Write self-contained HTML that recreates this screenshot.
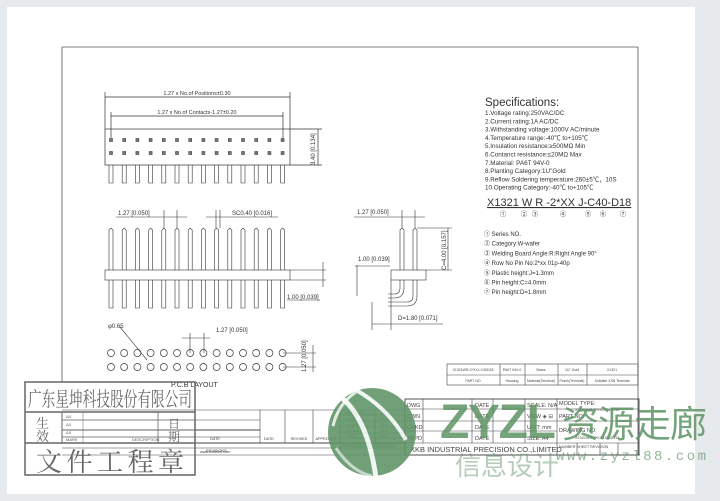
<!DOCTYPE html>
<html><head><meta charset="utf-8"><style>
html,body{margin:0;padding:0;background:#e6eaec;}
svg{display:block;font-family:"Liberation Sans","Noto Sans CJK SC",sans-serif;}
</style></head><body>
<svg width="720" height="501" viewBox="0 0 720 501" xmlns="http://www.w3.org/2000/svg">
<rect x="0" y="0" width="720" height="501" fill="#e6eaec"/>
<rect x="7" y="7" width="688" height="487" fill="#fff"/>
<g stroke="#555" fill="none" stroke-width="0.8">
<polyline points="62,382 62,47 638,47 638,455"/>
</g>
<g stroke="#333" stroke-width="0.7" fill="none">
<line x1="105" y1="97" x2="290" y2="97"/><line x1="105" y1="92" x2="105" y2="129"/><line x1="290" y1="92" x2="290" y2="129"/>
<line x1="111" y1="116" x2="283" y2="116"/><line x1="111" y1="112" x2="111" y2="138"/><line x1="283" y1="112" x2="283" y2="138"/>
<rect x="105" y="129" width="185" height="36"/>
<line x1="290" y1="129" x2="322" y2="129"/><line x1="290" y1="165" x2="322" y2="165"/><line x1="318" y1="129" x2="318" y2="165"/>
</g>
<text x="197" y="95" font-size="5.5" text-anchor="middle" fill="#333">1.27 x No.of Positions±0.30</text>
<text x="197" y="114" font-size="5.5" text-anchor="middle" fill="#333">1.27 x No.of Contacts-1.27±0.20</text>
<text x="0" y="0" font-size="6" fill="#333" transform="translate(315,165) rotate(-90)">3.40 [0.134]</text>
<g stroke="#444" stroke-width="0.6" fill="#777">
<rect x="109.5" y="138.5" width="3" height="3"/><rect x="109.5" y="151.5" width="3" height="3"/>
<rect x="122.7" y="138.5" width="3" height="3"/><rect x="122.7" y="151.5" width="3" height="3"/>
<rect x="135.9" y="138.5" width="3" height="3"/><rect x="135.9" y="151.5" width="3" height="3"/>
<rect x="149.1" y="138.5" width="3" height="3"/><rect x="149.1" y="151.5" width="3" height="3"/>
<rect x="162.3" y="138.5" width="3" height="3"/><rect x="162.3" y="151.5" width="3" height="3"/>
<rect x="175.5" y="138.5" width="3" height="3"/><rect x="175.5" y="151.5" width="3" height="3"/>
<rect x="188.7" y="138.5" width="3" height="3"/><rect x="188.7" y="151.5" width="3" height="3"/>
<rect x="201.9" y="138.5" width="3" height="3"/><rect x="201.9" y="151.5" width="3" height="3"/>
<rect x="215.1" y="138.5" width="3" height="3"/><rect x="215.1" y="151.5" width="3" height="3"/>
<rect x="228.3" y="138.5" width="3" height="3"/><rect x="228.3" y="151.5" width="3" height="3"/>
<rect x="241.5" y="138.5" width="3" height="3"/><rect x="241.5" y="151.5" width="3" height="3"/>
<rect x="254.7" y="138.5" width="3" height="3"/><rect x="254.7" y="151.5" width="3" height="3"/>
<rect x="267.9" y="138.5" width="3" height="3"/><rect x="267.9" y="151.5" width="3" height="3"/>
<rect x="281.1" y="138.5" width="3" height="3"/><rect x="281.1" y="151.5" width="3" height="3"/>
</g>
<g stroke="#333" stroke-width="0.6" fill="none">
<path d="M109,165v18h4v-18M122.2,165v18h4v-18M135.4,165v18h4v-18M148.6,165v18h4v-18M161.8,165v18h4v-18M175,165v18h4v-18M188.2,165v18h4v-18M201.4,165v18h4v-18M214.6,165v18h4v-18M227.8,165v18h4v-18M241,165v18h4v-18M254.2,165v18h4v-18M267.4,165v18h4v-18M280.6,165v18h4v-18"/>
<path d="M109,270v-40l2,-2l2,2v40M122.2,270v-40l2,-2l2,2v40M135.4,270v-40l2,-2l2,2v40M148.6,270v-40l2,-2l2,2v40M161.8,270v-40l2,-2l2,2v40M175,270v-40l2,-2l2,2v40M188.2,270v-40l2,-2l2,2v40M201.4,270v-40l2,-2l2,2v40M214.6,270v-40l2,-2l2,2v40M227.8,270v-40l2,-2l2,2v40M241,270v-40l2,-2l2,2v40M254.2,270v-40l2,-2l2,2v40M267.4,270v-40l2,-2l2,2v40M280.6,270v-40l2,-2l2,2v40"/>
<path d="M109,280v28h4v-28M122.2,280v28h4v-28M135.4,280v28h4v-28M148.6,280v28h4v-28M161.8,280v28h4v-28M175,280v28h4v-28M188.2,280v28h4v-28M201.4,280v28h4v-28M214.6,280v28h4v-28M227.8,280v28h4v-28M241,280v28h4v-28M254.2,280v28h4v-28M267.4,280v28h4v-28M280.6,280v28h4v-28"/>
<rect x="105" y="270" width="185" height="10"/>
<line x1="290" y1="270" x2="326" y2="270"/><line x1="290" y1="280" x2="326" y2="280"/><line x1="323" y1="262" x2="323" y2="287"/>
<line x1="116" y1="217" x2="187" y2="217"/><line x1="164" y1="210" x2="164" y2="228"/><line x1="177" y1="210" x2="177" y2="228"/>
<line x1="206" y1="217" x2="278" y2="217"/><line x1="216" y1="210" x2="216" y2="228"/><line x1="220" y1="210" x2="220" y2="228"/>
<line x1="287" y1="300" x2="320" y2="300"/>
<rect x="391" y="270" width="35" height="10"/>
<path d="M400,270v-40l2,-2l2,2v40M413,270v-40l2,-2l2,2v40"/>
<path d="M400,280v8q0,6 -6,6h-6M404,280v8q0,10 -10,10h-6"/>
<path d="M413,280v16q0,6 -6,6h-19M417,280v16q0,10 -10,10h-19"/>
<line x1="354" y1="217" x2="425" y2="217"/><line x1="402" y1="210" x2="402" y2="228"/><line x1="415" y1="210" x2="415" y2="228"/>
<line x1="417" y1="228" x2="452" y2="228"/><line x1="426" y1="270" x2="452" y2="270"/><line x1="448" y1="228" x2="448" y2="270"/>
<line x1="355" y1="266" x2="390" y2="266"/><line x1="357" y1="265" x2="357" y2="296"/>
<line x1="372" y1="324" x2="443" y2="324"/><line x1="372" y1="302" x2="372" y2="330"/><line x1="391" y1="280" x2="391" y2="330"/>
<line x1="182" y1="338" x2="210" y2="338"/><line x1="190" y1="333" x2="190" y2="353"/><line x1="204" y1="333" x2="204" y2="353"/>
<line x1="120" y1="327" x2="147" y2="360"/>
<line x1="283" y1="353" x2="316" y2="353"/><line x1="283" y1="367" x2="316" y2="367"/><line x1="313" y1="345" x2="313" y2="372"/>
</g>
<g stroke="#333" stroke-width="0.7" fill="none">
<circle cx="111" cy="353" r="3.5"/><circle cx="124.2" cy="353" r="3.5"/><circle cx="137.4" cy="353" r="3.5"/><circle cx="150.6" cy="353" r="3.5"/><circle cx="163.8" cy="353" r="3.5"/><circle cx="177" cy="353" r="3.5"/><circle cx="190.2" cy="353" r="3.5"/><circle cx="203.4" cy="353" r="3.5"/><circle cx="216.6" cy="353" r="3.5"/><circle cx="229.8" cy="353" r="3.5"/><circle cx="243" cy="353" r="3.5"/><circle cx="256.2" cy="353" r="3.5"/><circle cx="269.4" cy="353" r="3.5"/><circle cx="282.6" cy="353" r="3.5"/>
<circle cx="111" cy="367" r="3.5"/><circle cx="124.2" cy="367" r="3.5"/><circle cx="137.4" cy="367" r="3.5"/><circle cx="150.6" cy="367" r="3.5"/><circle cx="163.8" cy="367" r="3.5"/><circle cx="177" cy="367" r="3.5"/><circle cx="190.2" cy="367" r="3.5"/><circle cx="203.4" cy="367" r="3.5"/><circle cx="216.6" cy="367" r="3.5"/><circle cx="229.8" cy="367" r="3.5"/><circle cx="243" cy="367" r="3.5"/><circle cx="256.2" cy="367" r="3.5"/><circle cx="269.4" cy="367" r="3.5"/><circle cx="282.6" cy="367" r="3.5"/>
</g>
<g font-size="6" fill="#333">
<text x="118" y="215">1.27 [0.050]</text>
<text x="232" y="215">SC0.40 [0.016]</text>
<text x="287" y="299">1.00 [0.039]</text>
<text x="357" y="214">1.27 [0.050]</text>
<text x="358" y="261">1.00 [0.039]</text>
<text x="398" y="320">D=1.80 [0.071]</text>
<text transform="translate(446,270) rotate(-90)">C=4.00 [0.157]</text>
<text x="108" y="328">φ0.65</text>
<text x="216" y="332">1.27 [0.050]</text>
<text transform="translate(306,372) rotate(-90)">1.27 [0.050]</text>
<text x="171" y="387" font-size="7">P.C.B LAYOUT</text>
</g>
<g fill="#333">
<text x="485" y="106" font-size="11.5">Specifications:</text>
<g font-size="6.3">
<text x="485" y="115">1.Voltage rating:250VAC/DC</text>
<text x="485" y="123.3">2.Current rating:1A AC/DC</text>
<text x="485" y="131.6">3.Withstanding voltage:1000V AC/minute</text>
<text x="485" y="139.9">4.Temperature range:-40℃ to+105℃</text>
<text x="485" y="148.2">5.Insulation resistance:≥500MΩ Min</text>
<text x="485" y="156.5">6.Contanct resistance:≤20MΩ Max</text>
<text x="485" y="164.8">7.Material: PA6T 94V-0</text>
<text x="485" y="173.1">8.Planting Category:1U"Gold</text>
<text x="485" y="181.4">9.Reflow Soldering temperature:260±5℃，10S</text>
<text x="485" y="189.7">10.Operating Category:-40℃ to+105℃</text>
</g>
<text x="487" y="206" font-size="11" text-decoration="underline">X1321 W R -2*XX J-C40-D18</text>
<g font-size="6.5" text-anchor="middle">
<text x="503" y="216">①</text><text x="524" y="216">②</text><text x="535" y="216">③</text><text x="563" y="216">④</text><text x="588" y="216">⑤</text><text x="603" y="216">⑥</text><text x="623" y="216">⑦</text>
</g>
<g font-size="6">
<text x="484" y="236">① Series NO.</text>
<text x="484" y="245.7">② Category:W-wafer</text>
<text x="484" y="255.4">③ Welding Board Angle:R:Right Angle 90°</text>
<text x="484" y="265.1">④ Row No Pin No:2*xx 01p-40p</text>
<text x="484" y="274.8">⑤ Plastic height:J=1.3mm</text>
<text x="484" y="284.5">⑥ Pin height:C=4.0mm</text>
<text x="484" y="294.2">⑦ Pin height:D=1.8mm</text>
</g>
</g>
<g stroke="#444" stroke-width="0.6" fill="none">
<rect x="447" y="364" width="191" height="21"/><line x1="447" y1="375" x2="638" y2="375"/>
<line x1="500" y1="364" x2="500" y2="385"/><line x1="525" y1="364" x2="525" y2="385"/><line x1="558" y1="364" x2="558" y2="385"/><line x1="587" y1="364" x2="587" y2="385"/>
</g>
<g font-size="3.5" fill="#444" text-anchor="middle">
<text x="473" y="371">X1321WR-2*XXJ-C40D18</text><text x="512" y="371">PA6T 94V-0</text><text x="541" y="371">Brass</text><text x="572" y="371">1U" Gold</text><text x="612" y="371">X1321</text>
<text x="473" y="382">PART NO</text><text x="512" y="382">Housing</text><text x="541" y="382">Material(Terminal)</text><text x="572" y="382">Finish(Terminal)</text><text x="612" y="382">Solidate XXB Terminal</text>
</g>
<g stroke="#444" stroke-width="0.6" fill="none">
<line x1="62" y1="410" x2="405" y2="410"/><line x1="62" y1="443" x2="405" y2="443" stroke-width="1"/><line x1="62" y1="448" x2="405" y2="448"/><line x1="62" y1="455" x2="640" y2="455"/>
<line x1="62" y1="420" x2="260" y2="420"/><line x1="62" y1="430" x2="260" y2="430" stroke-width="1"/><line x1="62" y1="437" x2="260" y2="437"/>
<line x1="260" y1="410" x2="260" y2="443"/><line x1="285" y1="410" x2="285" y2="443"/><line x1="313" y1="410" x2="313" y2="443"/><line x1="340" y1="410" x2="340" y2="455"/><line x1="375" y1="410" x2="375" y2="443"/>
<line x1="340" y1="415" x2="405" y2="415"/><line x1="340" y1="421" x2="405" y2="421"/><line x1="340" y1="427" x2="405" y2="427"/><line x1="340" y1="433" x2="405" y2="433"/><line x1="340" y1="438" x2="405" y2="438"/>
<rect x="405" y="399" width="234" height="56" stroke-width="0.9"/>
<line x1="405" y1="409" x2="639" y2="409"/><line x1="405" y1="421" x2="639" y2="421"/><line x1="405" y1="431" x2="557" y2="431"/><line x1="405" y1="443" x2="639" y2="443"/>
<line x1="423" y1="399" x2="423" y2="443"/><line x1="472" y1="399" x2="472" y2="443"/><line x1="493" y1="399" x2="493" y2="443"/><line x1="525" y1="399" x2="525" y2="443"/><line x1="557" y1="399" x2="557" y2="455"/>
<line x1="577" y1="443" x2="577" y2="455"/><line x1="600" y1="443" x2="600" y2="455"/><line x1="618" y1="443" x2="618" y2="455"/>
</g>
<g font-size="3.8" fill="#444">
<text x="206" y="452">REVISIONS</text><text x="215" y="440" text-anchor="middle">DATE</text><text x="299" y="440" text-anchor="middle">REVISED</text><text x="326" y="440" text-anchor="middle">APPROVED</text><text x="264" y="440">DATE</text>
<text x="345" y="414">ANGULAR</text><text x="345" y="420">1-5X6</text><text x="345" y="426">&gt;6-3X10</text><text x="345" y="432">&gt;30-50X3</text><text x="345" y="437">1-3X3</text>
<text x="380" y="414">±1°</text><text x="380" y="420">±0.2</text><text x="380" y="426">±0.3</text><text x="380" y="432">±0.4</text><text x="380" y="437">±0.5</text>
<text x="342" y="447">APPROVED TO TOLERANCES</text>
<text x="200" y="453">www.kxbeleb.com</text>
</g>
<g font-size="5.5" fill="#444">
<text x="407" y="407">DWG</text><text x="407" y="418">DWN</text><text x="407" y="429">CHKD</text><text x="407" y="440">APPD</text>
<text x="475" y="407">DATE</text><text x="475" y="418">DATE</text><text x="475" y="429">DATE</text><text x="475" y="440">DATE</text>
<text x="527" y="407">SCALE: N/A</text><text x="527" y="418">VIEW ◈ ⊟</text><text x="527" y="429">UNIT: mm</text><text x="527" y="440">SIZE: A4</text>
<text x="559" y="405">MODEL TYPE:</text><text x="559" y="418">PART NO:</text><text x="559" y="432">DRAWING NO:</text>
<text x="410" y="452" font-size="7.5">XKB INDUSTRIAL PRECISION CO.,LIMITED</text>
</g>
<g font-size="3.8" fill="#444"><text x="575" y="411">X1321WR-2*XXJ-C40D18</text><text x="575" y="439">X1321WR-2*XXJ-C40D18</text><text x="559" y="448">NUMBER  SHEET  REVISION</text></g>
<g stroke="#666" fill="none">
<rect x="25" y="382" width="170" height="93" stroke-width="1.5"/>
<line x1="25" y1="412" x2="195" y2="412" stroke-width="1.5"/><line x1="25" y1="443" x2="195" y2="443" stroke-width="1.5"/>
<line x1="62" y1="412" x2="62" y2="443" stroke-width="1"/>
<line x1="62" y1="420" x2="195" y2="420" stroke-width="0.5"/><line x1="62" y1="430" x2="195" y2="430" stroke-width="1"/><line x1="62" y1="437" x2="195" y2="437" stroke-width="0.5"/>
<line x1="83" y1="412" x2="83" y2="443" stroke-width="0.5"/><line x1="158" y1="412" x2="158" y2="443" stroke-width="0.8"/>
</g>
<g fill="#666" font-family="'Noto Serif CJK SC','Noto Sans CJK SC',serif">
<text x="28" y="406" font-size="20" lengthAdjust="spacingAndGlyphs" textLength="164">广东星坤科技股份有限公司</text>
<text x="36" y="428" font-size="13">生</text><text x="36" y="441" font-size="13">效</text>
<text x="168" y="428" font-size="12">日</text><text x="168" y="441" font-size="12">期</text>
<text x="36" y="471" font-size="26" textLength="148">文件工程章</text>
</g>
<g font-size="4" fill="#555"><text x="66" y="418">ΔX</text><text x="66" y="426">ΔX</text><text x="66" y="434">ΔX</text><text x="66" y="441">MARK</text><text x="132" y="441">DESCRIPTION</text></g>
<!-- watermark -->
<g opacity="0.88">
<circle cx="372" cy="432" r="44" fill="#5e9466"/>
<path d="M342,398 Q368,420 376,478" stroke="#fff" stroke-width="5" fill="none" opacity="0.9"/>
<path d="M356,390 Q388,408 406,440" stroke="#fff" stroke-width="4" fill="none" opacity="0.9"/>
<path d="M333,426 Q338,404 356,392" stroke="#fff" stroke-width="3" fill="none" opacity="0.8"/>
<path d="M336,448 Q352,472 372,476" stroke="#fff" stroke-width="3" fill="none" opacity="0.6"/>
</g>
<g fill="#5e9466" opacity="0.85">
<text x="440" y="438" font-size="48" font-weight="bold" font-family="'Liberation Sans',sans-serif" letter-spacing="4" textLength="120">ZYZL</text>
<text x="562" y="437" font-size="37" font-family="'Noto Sans CJK SC',sans-serif" textLength="145">资源走廊</text>
<text x="556" y="460" font-size="14" font-family="'Liberation Mono',monospace" textLength="150" opacity="0.8">www.zyzl88.com</text>
<text x="455" y="475" font-size="26" font-family="'Noto Sans CJK SC',sans-serif" opacity="0.55">信息设计</text>
</g>
</svg>
</body></html>
